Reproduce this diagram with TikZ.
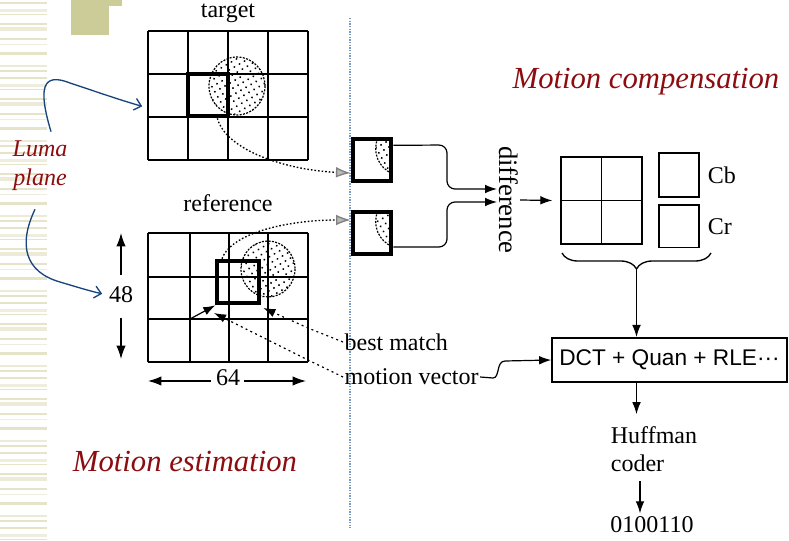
\documentclass[tikz,border=0pt]{standalone}
\usepackage{fontspec}
\setmainfont{Liberation Serif}
\newfontfamily\dctfont{Liberation Sans}
\usetikzlibrary{arrows.meta, positioning, calc, patterns.meta, decorations.pathreplacing}
\definecolor{slidered}{RGB}{140,12,16}
\definecolor{curveblue}{RGB}{24,68,128}
\definecolor{stripe}{RGB}{229,227,200}
\definecolor{olive}{RGB}{204,204,153}
\definecolor{sepblue}{RGB}{120,150,200}

\begin{document}
\begin{tikzpicture}[x=0.75pt, y=-0.75pt,
    lbl/.style={font=\fontsize{18}{21}\selectfont, inner sep=1pt},
    ttl/.style={font=\fontsize{23}{27}\selectfont\itshape, text=slidered, inner sep=0pt},
    mbox/.style={draw, line width=3pt, inner sep=0pt},
    cbox/.style={draw, line width=1pt, inner sep=0pt},
    blob/.style={pattern={Dots[distance=4.4pt, radius=0.8pt, angle=30]}, dash pattern=on 1.5pt off 1pt, line width=0.9pt},
    arr/.style={-{Latex[length=9pt,width=6.5pt]}, line width=0.9pt},
    dim/.style={-{Latex[length=10pt,width=7pt]}, line width=0.9pt},
    dotarr/.style={-{Latex[length=11pt,width=8pt,color=gray,fill=gray!55]}, dash pattern=on 1.2pt off 1.5pt, line width=1pt},
    lead/.style={-{Latex[length=9pt,width=6.5pt]}, dash pattern=on 1.5pt off 2.5pt, line width=0.9pt},
    luma/.style={-{Straight Barb[length=5pt,width=9pt]}, curveblue, line width=1pt},
]
\useasboundingbox (0,0) rectangle (789,541);
\fill[white] (0,0) rectangle (789,541);

% slide decoration
\foreach \b in {0,75,...,525}
  \foreach \o/\h/\k in {2/2/stripe,9/3/stripe!60,14/1/stripe,23/2/stripe,27/4/stripe!70,38/2/stripe,44/1/stripe!60,52/3/stripe,65/2/stripe!70,70/2/stripe}
    \fill[\k] (0,\b+\o) rectangle (47,\b+\o+\h);
\fill[olive] (71,0) rectangle (109,35);
\fill[olive] (109,0) rectangle (122,6);
\draw[sepblue, dash pattern=on 1pt off 1pt, line width=0.8pt] (350,18) -- (350,528);

% target frame
\draw[blob] (237,86) circle [x radius=28, y radius=29];
\foreach \c in {148,188,228,268,308} \draw[line width=1pt] (\c,31) -- (\c,160);
\foreach \r in {31,74,117,160} \draw[line width=1pt] (148,\r) -- (308,\r);
\node[lbl] (tlbl) at (228,13) {target};
\node[mbox, minimum width=30pt, minimum height=32pt] (tbox) at (208,95) {};
\coordinate (tgl) at (148,108);

% reference frame
\draw[blob] (268,269) circle [x radius=27, y radius=28];
\foreach \c in {148,190,229,268,308} \draw[line width=1pt] (\c,233) -- (\c,362);
\foreach \r in {233,277,319,362} \draw[line width=1pt] (148,\r) -- (308,\r);
\node[lbl] (rlbl) at (228,203) {reference};
\node[mbox, minimum width=31pt, minimum height=32pt] (rbox) at (238,282) {};
\coordinate (rNW) at (148,233);
\coordinate (rSE) at (308,362);

% sizes
\node[lbl] (n48) at (121,295) {48};
\draw[dim] ($(n48)+(0,-20)$) -- (n48 |- rNW);
\draw[dim] ($(n48)+(0,23)$) -- ($(n48 |- rSE)+(0,-3)$);
\node[lbl] (n64) at (228,378) {64};
\draw[dim] ($(n64)+(-17,3)$) -- ($(n64 -| rNW)+(0,3)$);
\draw[dim] ($(n64)+(16,3)$) -- ($(n64 -| rSE)+(-2,3)$);

% best match / motion vector
\node[lbl, anchor=west] (bm) at (343,342) {best match};
\node[lbl, anchor=west] (mv) at (343,377) {motion vector};
\coordinate (mvs) at (190,319);
\coordinate (mvtip) at (214,313);
\draw[arr] (mvs) -- (rbox.south west);
\draw[lead] (bm.west) -- (308,328) -- ([shift={(2pt,-2pt)}]rbox.south east);
\draw[lead] (mv.west) -- (308,360) -- (mvtip);

% extracted blocks
\node[mbox, minimum width=29pt, minimum height=32pt] (sA) at (372,160) {};
\node[mbox, minimum width=29pt, minimum height=32pt] (sB) at (372,233) {};
\foreach \s in {sA,sB} {
  \begin{scope}
    \clip ($(\s.south west)+(3,-3)$) rectangle ($(\s.north east)+(-3,3)$);
    \draw[blob] ($(\s.north west)+(52,12)$) circle [radius=27];
  \end{scope}
}
\draw[dotarr] ([xshift=7pt]tbox.south) .. controls (226,150) and (285,170) .. ([yshift=-9.75pt]sA.west);
\draw[dotarr] ([xshift=-12pt]rbox.north) .. controls (232,232) and (290,220) .. ([yshift=9.75pt]sB.west);

% difference
\node[lbl, font=\fontsize{20}{22}\selectfont, rotate=-90] (diff) at (509,200) {difference};
\coordinate (inA) at (497,189);
\coordinate (inB) at (497,202);
\draw[arr, rounded corners=6pt] ([yshift=11pt]sA.east) -- (447,145) -- (447,189) -- (inA);
\draw[arr, rounded corners=6pt] ([yshift=-10.5pt]sB.east) -- (447,247) -- (447,202) -- (inB);

% Y, Cb, Cr blocks
\node[cbox, minimum width=60.75pt, minimum height=65.25pt] (lum) at (601.5,200.5) {};
\draw[line width=1pt] (lum.north) -- (lum.south) (lum.west) -- (lum.east);
\draw[arr] (diff.north) -- ([xshift=-6pt]lum.west);
\node[cbox, minimum width=30pt, minimum height=33pt] (cbb) at (679,175) {};
\node[cbox, minimum width=30pt, minimum height=32pt] (crb) at (679,226.5) {};
\node[lbl, right=5pt of cbb] (cbl) {Cb};
\node[lbl, right=5pt of crb] (crl) {Cr};
\coordinate (brL) at (562,253);
\coordinate (brR) at (711,253);
\draw[line width=1pt, decorate, decoration={brace, mirror, amplitude=12pt}] (brL) -- (brR);
\coordinate (brT) at (636.5,270);

% coding chain
\node[draw, line width=1.5pt, minimum width=176pt, minimum height=33pt, inner sep=2pt,
      font=\dctfont\fontsize{17}{20}\selectfont] (dct) at (669.5,360) {DCT + Quan + RLE···};
\draw[arr] (brT) -- (brT |- dct.north);
\draw[arr] (mv.east) -- (493,378) .. controls (500,378) and (496,361) .. (505,361) -- (dct.west);
\node[lbl, align=left] (huff) at (654,449) {Huffman\\coder};
\draw[arr, shorten >=8pt] (dct.south -| brT) -- (brT |- huff.north);
\node[lbl] (code) at (652,525) {0100110};
\draw[arr] ($(huff.south)+(-14,8)$) -- ($(code.north)+(-12,-2)$);

% slide annotations
\node[ttl, font=\fontsize{18}{22}\selectfont\itshape, align=center] (luma) at (40,166) {Luma\\plane};
\draw[luma, shorten >=4.5pt] ($(luma.north)+(11,-9)$) .. controls (38,88) and (42,72) .. (70,83)
      .. controls (100,93) and (120,100) .. (tgl);
\draw[luma, shorten >=4pt] ($(luma.south)+(-5,18)$) .. controls (18,245) and (25,272) .. (60,282)
      .. controls (80,288) and (90,291) .. (n48.west);
\node[ttl] (mcomp) at (646,82) {Motion compensation};
\node[ttl] (mest) at (185,462) {Motion estimation};
\end{tikzpicture}
\end{document}
